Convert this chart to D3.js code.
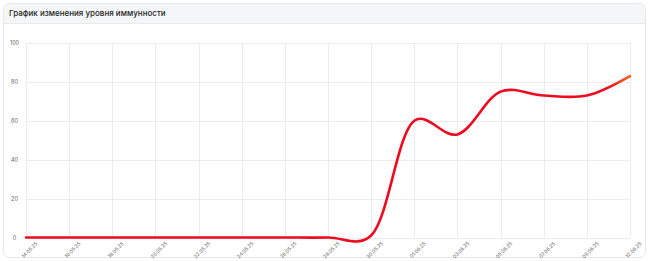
<!DOCTYPE html>
<html><head><meta charset="utf-8">
<script src="https://cdn.jsdelivr.net/npm/d3@7"></script>
<style>
html,body{margin:0;padding:0;background:#fff;}
svg{display:block;font-family:Inter, "Noto Sans", sans-serif;}
</style></head>
<body><svg id="c" width="650" height="261"></svg>
<script>
const dates = ["14.05.25","16.05.25","18.05.25","20.05.25","22.05.25","24.05.25","26.05.25","28.05.25","30.05.25","01.06.25","03.06.25","05.06.25","07.06.25","09.06.25","12.06.25"];
const immunity = [0,0,0,0,0,0,0,0,1,60,53,75,73,73,83];
const yTicks = [0,20,40,60,80,100];
const title = "График изменения уровня иммунности";

const svg = d3.select("#c");
// card
svg.append("rect").attr("x",3.5).attr("y",3.5).attr("width",642).attr("height",254)
  .attr("rx",6).attr("fill","#fff").attr("stroke","#e6e7ea");
svg.append("path").attr("d","M4,23 L4,10 Q4,4 10,4 L639,4 Q645,4 645,10 L645,23 Z").attr("fill","#f5f6f8");
svg.append("line").attr("x1",4).attr("x2",645).attr("y1",23.5).attr("y2",23.5).attr("stroke","#e8e9ec");
svg.append("text").attr("x",9).attr("y",16).attr("font-size",8).attr("font-weight",500).attr("fill","#222").text(title);

const x = d3.scalePoint().domain(dates).range([26,630]);
const y = d3.scaleLinear().domain([0,100]).range([237.5,43]);

// grid
const g = svg.append("g");
g.selectAll(".hg").data(yTicks).join("line")
  .attr("x1",26).attr("x2",630).attr("y1",d=>Math.round(y(d))+0.5).attr("y2",d=>Math.round(y(d))+0.5)
  .attr("stroke","#ececec");
g.selectAll(".vg").data(dates).join("line")
  .attr("x1",d=>Math.round(x(d))+0.5).attr("x2",d=>Math.round(x(d))+0.5).attr("y1",43).attr("y2",237.5)
  .attr("stroke","#ececec");

// y labels
const yAxis = d3.axisLeft(y).tickValues(yTicks).tickSize(0).tickPadding(0);
const ya = svg.append("g").attr("transform","translate(14.5,0)").call(yAxis);
ya.select(".domain").remove();
ya.selectAll("text").attr("font-size",5.5).attr("fill","#666").attr("font-family","Inter, sans-serif")
  .attr("text-anchor","middle");

// x labels
const xAxis = d3.axisBottom(x).tickSize(0).tickPadding(0);
const xa = svg.append("g").attr("transform","translate(0,250)").call(xAxis);
xa.select(".domain").remove();
xa.selectAll("text").attr("font-size",5).attr("fill","#666").attr("font-family","Inter, sans-serif")
  .attr("text-anchor","middle").attr("y",0).attr("dy","0.35em").attr("transform","translate(3,0) rotate(-45)");

// gradient
const defs = svg.append("defs");
const grad = defs.append("linearGradient").attr("id","lg").attr("gradientUnits","userSpaceOnUse")
  .attr("x1",26).attr("x2",630).attr("y1",0).attr("y2",0);
grad.append("stop").attr("offset","0%").attr("stop-color","#ee0a1f");
grad.append("stop").attr("offset","96%").attr("stop-color","#ee0a1f");
grad.append("stop").attr("offset","100%").attr("stop-color","#f5631a");

const line = d3.line().x((d,i)=>x(dates[i])).y(d=>y(d)).curve(d3.curveCatmullRom.alpha(0.3));
svg.append("path").datum(immunity).attr("d",line).attr("fill","none")
  .attr("stroke","url(#lg)").attr("stroke-width",2.6).attr("stroke-linejoin","round").attr("stroke-linecap","round");
</script></body></html>
